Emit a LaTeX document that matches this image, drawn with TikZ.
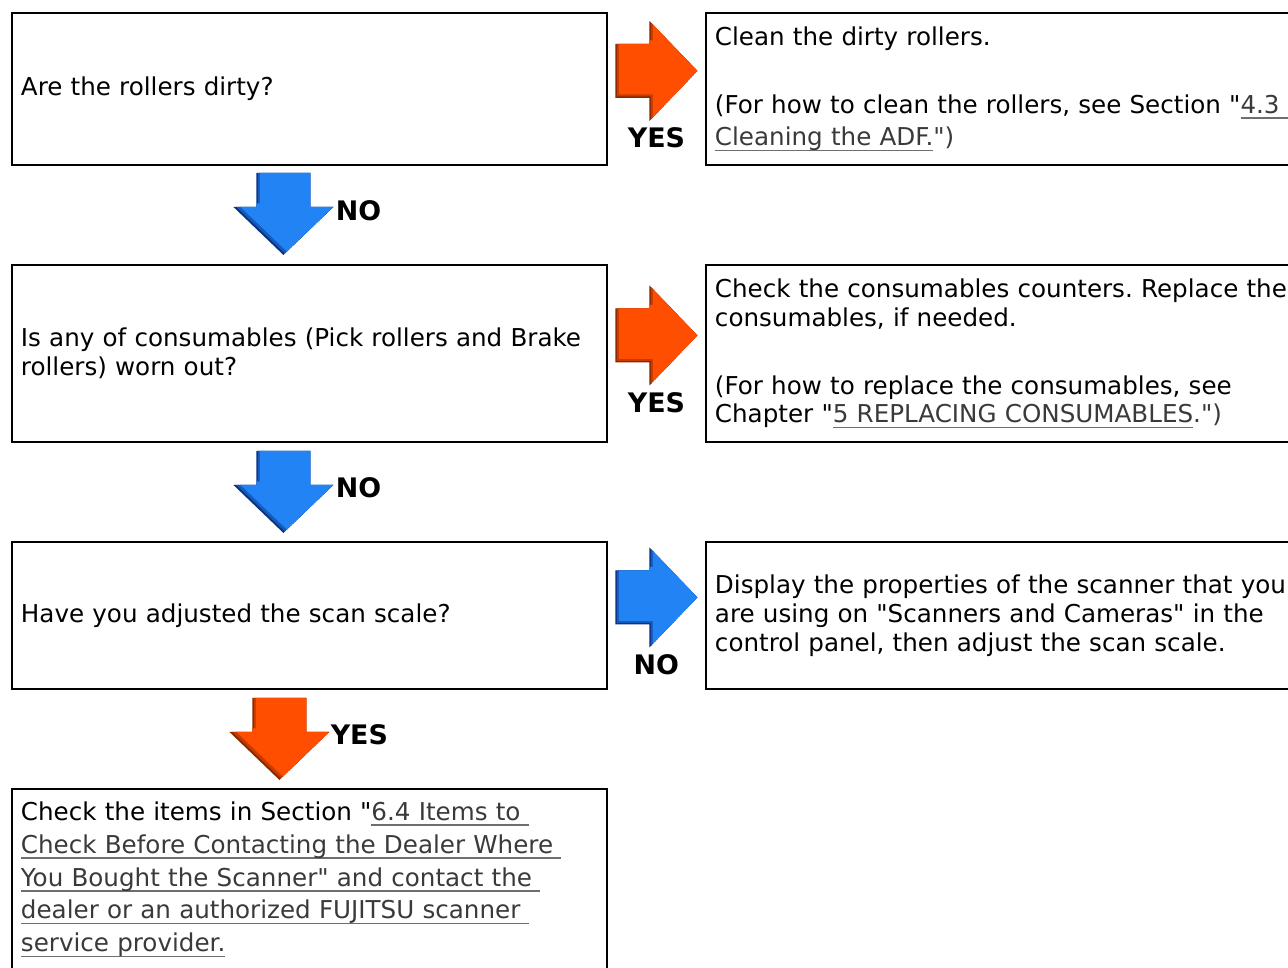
\documentclass[tikz,border=0pt]{standalone}
\usepackage{fontspec}
\setmainfont{DejaVu Sans}[Ligatures=TeXOff]
\usetikzlibrary{calc}
\definecolor{linkgray}{HTML}{3A3A3A}
\definecolor{linerule}{HTML}{6E6E6E}
\definecolor{yesorange}{HTML}{FF4E00}
\definecolor{yesdark}{HTML}{8A2800}
\definecolor{noblue}{HTML}{2283F5}
\definecolor{nodark}{HTML}{0A3384}
\newcommand\lnk[1]{\leavevmode\setbox0\hbox{\color{linkgray}#1}%
  \rlap{\color{linerule}\rule[-.22em]{\wd0}{.75pt}}\box0}
\frenchspacing

\tikzset{
  box/.style={draw,line width=1.1pt,anchor=north west,inner xsep=.18cm,inner ysep=0pt,
    align=left,font=\fontsize{14pt}{16.44pt}\selectfont},
  lab/.style={font=\fontsize{15.3pt}{18pt}\selectfont\bfseries,inner sep=0pt},
  pics/rarr/.style 2 args={code={
    \begin{scope}
      \clip (-41,-27) -- (-7,-27) -- (-7,-50) -- (41,0) -- (-7,50) -- (-7,27) -- (-41,27) -- cycle;
      \fill[#2] (-45,-55) rectangle (45,55);
      \fill[#2!50!#1,shift={(1.5,-1.5)}] (-41,-27) -- (-7,-27) -- (-7,-50) -- (41,0) -- (-7,50) -- (-7,27) -- (-41,27) -- cycle;
      \fill[#1,shift={(3.5,-3.5)}] (-41,-27) -- (-7,-27) -- (-7,-50) -- (41,0) -- (-7,50) -- (-7,27) -- (-41,27) -- cycle;
    \end{scope}}},
  pics/darr/.style 2 args={code={
    \begin{scope}
      \clip (-27,-41) -- (27,-41) -- (27,-7) -- (50,-7) -- (0,41) -- (-50,-7) -- (-27,-7) -- cycle;
      \fill[#2] (-55,-45) rectangle (55,45);
      \fill[#2!50!#1,shift={(1.5,-1.5)}] (-27,-41) -- (27,-41) -- (27,-7) -- (50,-7) -- (0,41) -- (-50,-7) -- (-27,-7) -- cycle;
      \fill[#1,shift={(3.5,-3.5)}] (-27,-41) -- (27,-41) -- (27,-7) -- (50,-7) -- (0,41) -- (-50,-7) -- (-27,-7) -- cycle;
    \end{scope}}}
}

\begin{document}
\begin{tikzpicture}[x=.02cm,y=-.02cm]
  \useasboundingbox (0,0) rectangle (1288,967);
  \clip (0,0) rectangle (1288,967);

  \node[box,text width=11.54cm,minimum height=3.04cm] (q1) at (11,12)
    {Are the rollers dirty?};
  \node[box,text width=11.64cm,minimum height=3.04cm] (a1) at (705,12)
    {Clean the dirty rollers.\\[.78cm]
     (For how to clean the rollers, see Section "\lnk{4.3 }\\[.08cm]
     \lnk{Cleaning the ADF.}")};
  \node[box,text width=11.54cm,minimum height=3.54cm] (q2) at (11,264)
    {Is any of consumables (Pick rollers and Brake\\
     rollers) worn out?};
  \node[box,text width=11.64cm,minimum height=3.54cm] (a2) at (705,264)
    {Check the consumables counters. Replace the\\
     consumables, if needed.\\[.78cm]
     (For how to replace the consumables, see\\
     Chapter "\lnk{5 REPLACING CONSUMABLES}.")};
  \node[box,text width=11.54cm,minimum height=2.94cm] (q3) at (11,541)
    {Have you adjusted the scan scale?};
  \node[box,text width=11.64cm,minimum height=2.94cm] (a3) at (705,541)
    {Display the properties of the scanner that you\\
     are using on "Scanners and Cameras" in the\\
     control panel, then adjust the scan scale.};
  \node[box,text width=11.54cm,minimum height=3.62cm] (q4) at (11,788)
    {Check the items in Section "\lnk{6.4 Items to }\\[.08cm]
     \lnk{Check Before Contacting the Dealer Where }\\[.08cm]
     \lnk{You Bought the Scanner" and contact the }\\[.08cm]
     \lnk{dealer or an authorized FUJITSU scanner }\\[.08cm]
     \lnk{service provider.}};

  \coordinate (r1) at ($(q1.east)!.5!(a1.west)+(0,-18)$);
  \coordinate (r2) at ($(q2.east)!.5!(a2.west)+(0,-18)$);
  \coordinate (r3) at ($(q3.east)!.5!(a3.west)+(0,-18)$);
  \coordinate (d1) at ($(q1.south)!.5!(q2.north)+(-26,-1)$);
  \coordinate (d2) at ($(q2.south)!.5!(q3.north)+(-26,0)$);
  \coordinate (d3) at ($(q3.south)!.5!(q4.north)+(-30,0)$);

  \pic (ar1) at (r1) {rarr={yesorange}{yesdark}};
  \pic (ar2) at (r2) {rarr={yesorange}{yesdark}};
  \pic (ar3) at (r3) {rarr={noblue}{nodark}};
  \pic (ad1) at (d1) {darr={noblue}{nodark}};
  \pic (ad2) at (d2) {darr={noblue}{nodark}};
  \pic (ad3) at (d3) {darr={yesorange}{yesdark}};

  \node[lab] (ly1) at ($(r1)+(0,67)$) {YES};
  \node[lab] (ly2) at ($(r2)+(0,67)$) {YES};
  \node[lab] (ln3) at ($(r3)+(0,67)$) {NO};
  \node[lab,anchor=west] (ln1) at ($(d1)+(52,-3)$) {NO};
  \node[lab,anchor=west] (ln2) at ($(d2)+(52,-4)$) {NO};
  \node[lab,anchor=west] (ly3) at ($(d3)+(51,-4)$) {YES};
\end{tikzpicture}
\end{document}
